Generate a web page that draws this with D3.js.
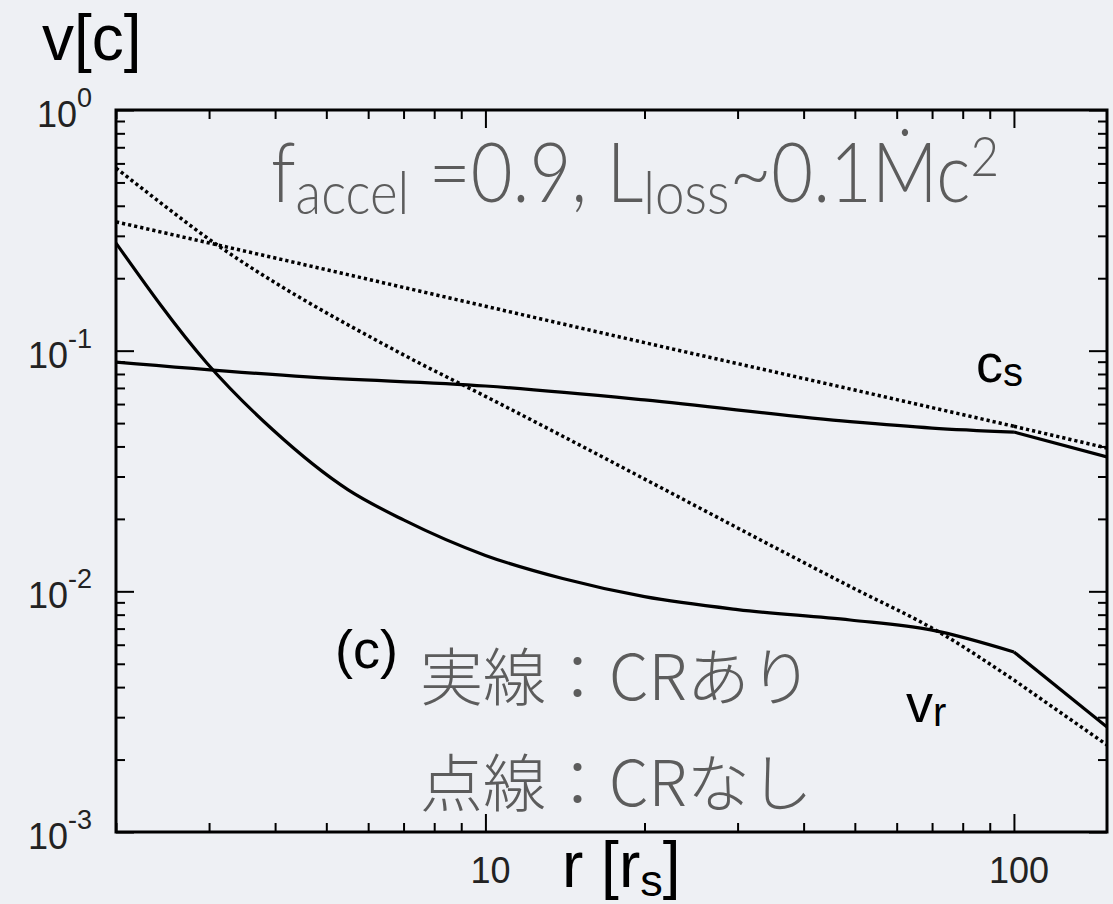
<!DOCTYPE html>
<html>
<head>
<meta charset="utf-8">
<script src="https://cdn.jsdelivr.net/npm/d3@7"></script>
<style>
  html, body { margin: 0; padding: 0; background: #eef0f4; }
  svg { display: block; }
</style>
</head>
<body>
<div id="chart"></div>
<script>
// axis ranges, r in r_s and v in units of c
const rDomain = [2, 150];
const vDomain = [1e-3, 1];
const xTickLabels = [10, 100];
const yTickExps = [0, -1, -2, -3];

// solid = with CR, [r, v]
const vrCR = [[2, 0.280], [2.97, 0.0889], [3.96, 0.0469], [5.5, 0.0264], [7, 0.0198], [10, 0.0141],
  [14, 0.0113], [20, 0.0095], [30, 0.0084], [49, 0.0076], [70, 0.0069], [100, 0.0056], [150, 0.00273]];
const csCR = [[2, 0.0897], [4.6, 0.0778], [10, 0.0713], [20, 0.0624], [49, 0.0507], [70, 0.0477],
  [100, 0.0459], [150, 0.0362]];

// dotted = without CR
const vrNoCR = [[2, 0.574], [2.39, 0.423], [2.84, 0.317], [6.9, 0.0977], [10, 0.0646], [49, 0.01047],
  [72, 0.00679], [100, 0.00428], [150, 0.0023]];
const csNoCR = [[2, 0.343], [5, 0.217], [10, 0.153], [20, 0.108], [50, 0.0686], [100, 0.0485], [150, 0.0394]];

const W = 1113, H = 904;
const plot = {left: 116, top: 110, right: 1107, bottom: 832};

const x = d3.scaleLog().domain(rDomain).range([plot.left, plot.right]);
const y = d3.scaleLog().domain(vDomain).range([plot.bottom, plot.top]);

const svg = d3.select("#chart").append("svg")
    .attr("width", W)
    .attr("height", H);

svg.append("rect").attr("width", W).attr("height", H).attr("fill", "#eef0f4");

svg.append("clipPath").attr("id", "clip")
  .append("rect")
    .attr("x", plot.left).attr("y", plot.top)
    .attr("width", plot.right - plot.left).attr("height", plot.bottom - plot.top);

// ticks, all pointing inward, on all four sides
const isMajor = d => Math.abs(Math.log10(d) - Math.round(Math.log10(d))) < 1e-9;
const xt = x.ticks(), yt = y.ticks();
const xMajor = xt.filter(isMajor), xMinor = xt.filter(d => !isMajor(d));
const yMajor = yt.filter(isMajor), yMinor = yt.filter(d => !isMajor(d));

function ticks(axisFn, scale, values, size, tx, ty) {
    svg.append("g")
        .attr("transform", `translate(${tx},${ty})`)
        .call(axisFn(scale).tickValues(values).tickSize(size).tickFormat(""))
        .call(g => g.select(".domain").remove())
        .selectAll("line")
        .attr("stroke", "#000")
        .attr("stroke-width", 2);
}

[[xMinor, -9], [xMajor, -18]].forEach(([vals, s]) => {
    ticks(d3.axisBottom, x, vals, s, 0, plot.bottom);
    ticks(d3.axisTop, x, vals, s, 0, plot.top);
});
[[yMinor, -9], [yMajor, -18]].forEach(([vals, s]) => {
    ticks(d3.axisLeft, y, vals, s, plot.left, 0);
    ticks(d3.axisRight, y, vals, s, plot.right, 0);
});

// curves
const line = d3.line()
    .x(d => x(d[0]))
    .y(d => y(d[1]))
    .curve(d3.curveMonotoneX);

const curves = svg.append("g").attr("clip-path", "url(#clip)");

function drawCurve(data, dashed) {
    // the solution has a kink at r = 100, keep it sharp
    const a = data.filter(d => d[0] <= 100), b = data.filter(d => d[0] >= 100);
    [a, b].forEach(part => {
        curves.append("path")
            .attr("d", line(part))
            .attr("fill", "none")
            .attr("stroke", "#000")
            .attr("stroke-width", dashed ? 3.5 : 3.2)
            .attr("stroke-dasharray", dashed ? "3.2 3" : null);
    });
}

drawCurve(csNoCR, true);
drawCurve(vrNoCR, true);
drawCurve(csCR, false);
drawCurve(vrCR, false);

// frame
svg.append("rect")
    .attr("x", plot.left).attr("y", plot.top)
    .attr("width", plot.right - plot.left).attr("height", plot.bottom - plot.top)
    .attr("fill", "none")
    .attr("stroke", "#000")
    .attr("stroke-width", 3);

const sans = "'Liberation Sans', Arial, Helvetica, sans-serif";

// tick labels
svg.selectAll(".ylab")
    .data(yTickExps)
    .enter().append("text")
    .attr("class", "ylab")
    .attr("x", 92)
    .attr("y", d => y(Math.pow(10, d)) + 17)
    .attr("text-anchor", "end")
    .attr("font-family", sans)
    .attr("font-size", 36)
    .attr("fill", "#222")
    .each(function (d) {
        const t = d3.select(this);
        t.append("tspan").text("10");
        t.append("tspan").attr("dy", -20).attr("font-size", 27).text(d);
    });

svg.selectAll(".xlab")
    .data(xTickLabels)
    .enter().append("text")
    .attr("class", "xlab")
    .attr("x", d => x(d) + 5)
    .attr("y", 883)
    .attr("text-anchor", "middle")
    .attr("font-family", sans)
    .attr("font-size", 36)
    .attr("fill", "#222")
    .text(d => d);

// axis titles
svg.append("text")
    .attr("x", 42).attr("y", 60)
    .attr("font-family", sans).attr("font-size", 64).attr("fill", "#000")
    .text("v[c]");

const xTitle = svg.append("text")
    .attr("x", 562).attr("y", 887)
    .attr("font-family", sans).attr("font-size", 64).attr("fill", "#000");
xTitle.append("tspan").text("r [r");
xTitle.append("tspan").attr("dy", 9).attr("font-size", 45).text("s");
xTitle.append("tspan").attr("dy", -9).text("]");

// curve labels
function subLabel(xp, yp, main, sub) {
    const t = svg.append("text")
        .attr("x", xp).attr("y", yp)
        .attr("font-family", sans).attr("font-size", 54).attr("fill", "#000");
    t.append("tspan").text(main);
    t.append("tspan").attr("dy", 4).attr("font-size", 40).text(sub);
}
subLabel(976, 382, "c", "s");
subLabel(906, 722, "v", "r");

svg.append("text")
    .attr("x", 335).attr("y", 668)
    .attr("font-family", sans).attr("font-size", 54).attr("fill", "#000")
    .text("(c)");

// parameter note
const light = "Lato, 'Open Sans', sans-serif";
const note = svg.append("text")
    .attr("x", 271).attr("y", 202)
    .attr("font-family", light).attr("font-weight", 300)
    .attr("font-size", 82).attr("fill", "#5c5c5c")
    .attr("textLength", 728).attr("lengthAdjust", "spacingAndGlyphs");
note.append("tspan").text("f");
note.append("tspan").attr("dy", 12).attr("font-size", 60).text("accel");
note.append("tspan").attr("dy", -12).text(" =0.9, L");
note.append("tspan").attr("dy", 12).attr("font-size", 60).text("loss");
note.append("tspan").attr("dy", -12).text("~0.1Ṁc");
note.append("tspan").attr("dy", -26).attr("font-size", 56).text("2");

// legend in Japanese
const jp = "'Noto Sans CJK JP', sans-serif";
[["実線：CRあり", 700], ["点線：CRなし", 806]].forEach(([s, yp]) => {
    svg.append("text")
        .attr("x", 420).attr("y", yp)
        .attr("font-family", jp).attr("font-weight", 300)
        .attr("font-size", 63).attr("fill", "#5c5c5c")
        .text(s);
});
</script>
</body>
</html>
